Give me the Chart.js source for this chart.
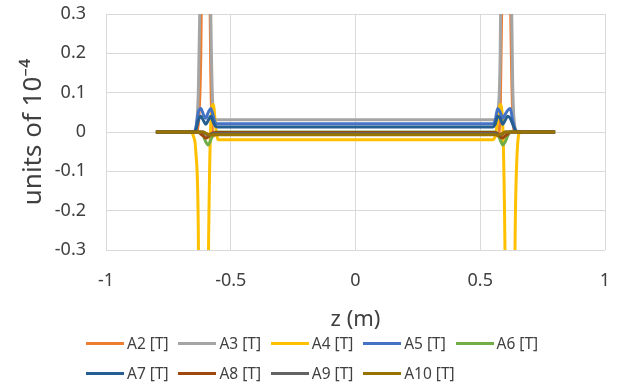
<!DOCTYPE html>
<html>
<head>
<meta charset="utf-8">
<script src="https://cdn.jsdelivr.net/npm/chart.js@4"></script>
<style>
  body { margin: 0; background: #fff; }
  #wrap { position: relative; width: 623px; height: 384px; }
  #chartBox { position: absolute; left: 0; top: 0; width: 623px; height: 335px; }
  #legend { position: absolute; left: 86px; top: 328px; width: 530px; font: 15.5px "Noto Sans", sans-serif; color: #404040; }
  .row { display: flex; height: 30px; align-items: center; }
  .item { width: 92.4px; flex: none; display: flex; align-items: center; white-space: nowrap; }
  .swatch { width: 38px; height: 3px; margin-right: 3px; flex: none; }
</style>
</head>
<body>
<div id="wrap">
  <div id="chartBox"><canvas id="chart"></canvas></div>
  <div id="legend"></div>
</div>
<script>
// z positions (m) shared by every series
const z = [-0.8, -0.7, -0.66, -0.65, -0.64, -0.63, -0.62, -0.61, -0.6, -0.59, -0.58, -0.57, -0.56, -0.55,
           -0.3, 0, 0.3,
           0.55, 0.56, 0.57, 0.58, 0.59, 0.6, 0.61, 0.62, 0.63, 0.64, 0.65, 0.66, 0.7, 0.8];

const a2  = [0, 0, 0, 0, 0, 0.02, 0.2, 0.8, 1.2, 0.8, 0.15, -0.01, -0.005, -0.002,
             -0.002, -0.002, -0.002,
             -0.002, -0.005, -0.01, 0.05, 0.5, 1.2, 1.0, 0.4, 0.05, 0, 0, 0, 0, 0];
const a3  = [0, 0, 0, 0, 0.01, 0.1, 0.45, 1.0, 1.3, 1.0, 0.3, 0.05, 0.032, 0.031,
             0.031, 0.031, 0.031,
             0.031, 0.032, 0.05, 0.2, 0.9, 1.3, 1.2, 0.6, 0.12, 0.01, 0, 0, 0, 0];
const a4  = [0, 0, 0, -0.01, -0.05, -0.25, -1.2, -1.8, -1.2, -0.35, 0.02, 0.07, 0.01, -0.02,
             -0.02, -0.02, -0.02,
             -0.02, -0.01, 0.03, 0.07, 0.02, -0.35, -1.2, -1.8, -1.0, -0.25, -0.03, 0, 0, 0];
const a5  = [0, 0, 0, 0, 0.01, 0.05, 0.06, 0.045, 0.035, 0.05, 0.06, 0.04, 0.022, 0.021,
             0.021, 0.021, 0.021,
             0.021, 0.03, 0.06, 0.05, 0.035, 0.045, 0.055, 0.06, 0.03, 0.005, 0, 0, 0, 0];
const a6  = [0, 0, 0, 0, 0, 0, 0, -0.01, -0.025, -0.033, -0.02, -0.005, 0, 0,
             0, 0, 0,
             0, 0, -0.005, -0.02, -0.033, -0.025, -0.01, 0, 0, 0, 0, 0, 0, 0];
const a7  = [0, 0, 0, 0, 0.005, 0.03, 0.04, 0.03, 0.02, 0.03, 0.04, 0.025, 0.014, 0.013,
             0.013, 0.013, 0.013,
             0.013, 0.02, 0.04, 0.035, 0.02, 0.03, 0.04, 0.035, 0.02, 0.005, 0, 0, 0, 0];
const a8  = [0, 0, 0, 0, 0, 0, -0.005, -0.01, -0.015, -0.012, -0.005, -0.002, -0.001, -0.001,
             -0.001, -0.001, -0.001,
             -0.001, -0.001, -0.005, -0.012, -0.015, -0.01, -0.005, 0, 0, 0, 0, 0, 0, 0];
const a9  = [0, 0, 0, 0, 0, 0, 0, 0, -0.005, -0.008, -0.006, -0.004, -0.004, -0.004,
             -0.004, -0.004, -0.004,
             -0.004, -0.004, -0.006, -0.008, -0.005, 0, 0, 0, 0, 0, 0, 0, 0, 0];
const a10 = [0, 0, 0, 0, 0, 0, 0, 0, -0.003, -0.006, -0.008, -0.007, -0.007, -0.007,
             -0.007, -0.007, -0.007,
             -0.007, -0.007, -0.008, -0.006, -0.003, 0, 0, 0, 0, 0, 0, 0, 0, 0];

const names  = ['A2 [T]', 'A3 [T]', 'A4 [T]', 'A5 [T]', 'A6 [T]', 'A7 [T]', 'A8 [T]', 'A9 [T]', 'A10 [T]'];
const series = [a2, a3, a4, a5, a6, a7, a8, a9, a10];
const colors = ['#ED7D31', '#A5A5A5', '#FFC000', '#4472C4', '#70AD47', '#255E91', '#9E480E', '#636363', '#997300'];

const xTicks = [-1, -0.5, 0, 0.5, 1];
const yTicks = [-0.3, -0.2, -0.1, 0, 0.1, 0.2, 0.3];

const textColor = '#404040';
const family = '"Noto Sans", sans-serif';

const datasets = series.map((vals, i) => ({
  label: names[i],
  data: vals.map((v, k) => ({ x: z[k], y: v })),
  borderColor: colors[i],
  backgroundColor: colors[i],
  borderWidth: 3,
  pointRadius: 0,
  cubicInterpolationMode: 'monotone',
  order: series.length - i   // later series drawn on top, like Excel
}));

new Chart(document.getElementById('chart'), {
  type: 'line',
  data: { datasets },
  options: {
    responsive: true,
    maintainAspectRatio: false,
    animation: false,
    layout: { padding: { left: 0, right: 18, top: 14, bottom: 0 } },
    plugins: { legend: { display: false }, tooltip: { enabled: false } },
    scales: {
      x: {
        type: 'linear', min: -1, max: 1,
        afterBuildTicks: s => { s.ticks = xTicks.map(v => ({ value: v })); },
        // tick padding would otherwise be added to the side padding too
        afterFit: s => { s.height = 85; s.paddingLeft = 0; s.paddingRight = 0; },
        grid: { color: '#D9D9D9', drawTicks: false },
        border: { display: false },
        ticks: { padding: 20, color: textColor, font: { family, size: 18 }, callback: v => String(v) },
        title: { display: true, text: 'z (m)', color: textColor, font: { family, size: 22 }, padding: { top: 0, bottom: 2 } }
      },
      y: {
        type: 'linear', min: -0.3, max: 0.3,
        afterBuildTicks: s => { s.ticks = yTicks.map(v => ({ value: v })); },
        afterFit: s => { s.width = 106; s.paddingTop = 0; s.paddingBottom = 0; },
        grid: { color: '#D9D9D9', drawTicks: false },
        border: { display: false },
        ticks: { padding: 20, color: textColor, font: { family, size: 18 }, callback: v => String(v) },
        title: { display: true, text: 'units of 10\u207B\u2074', color: textColor, font: { family, size: 26 }, padding: { top: 18, bottom: 0 } }
      }
    }
  }
});

// Excel-style legend grid under the chart
const legend = document.getElementById('legend');
[names.slice(0, 5), names.slice(5)].forEach((rowNames, r) => {
  const row = document.createElement('div');
  row.className = 'row';
  rowNames.forEach((n, j) => {
    const idx = r * 5 + j;
    const item = document.createElement('div');
    item.className = 'item';
    const sw = document.createElement('span');
    sw.className = 'swatch';
    sw.style.background = colors[idx];
    const tx = document.createElement('span');
    tx.textContent = n;
    item.appendChild(sw);
    item.appendChild(tx);
    row.appendChild(item);
  });
  legend.appendChild(row);
});
</script>
</body>
</html>
